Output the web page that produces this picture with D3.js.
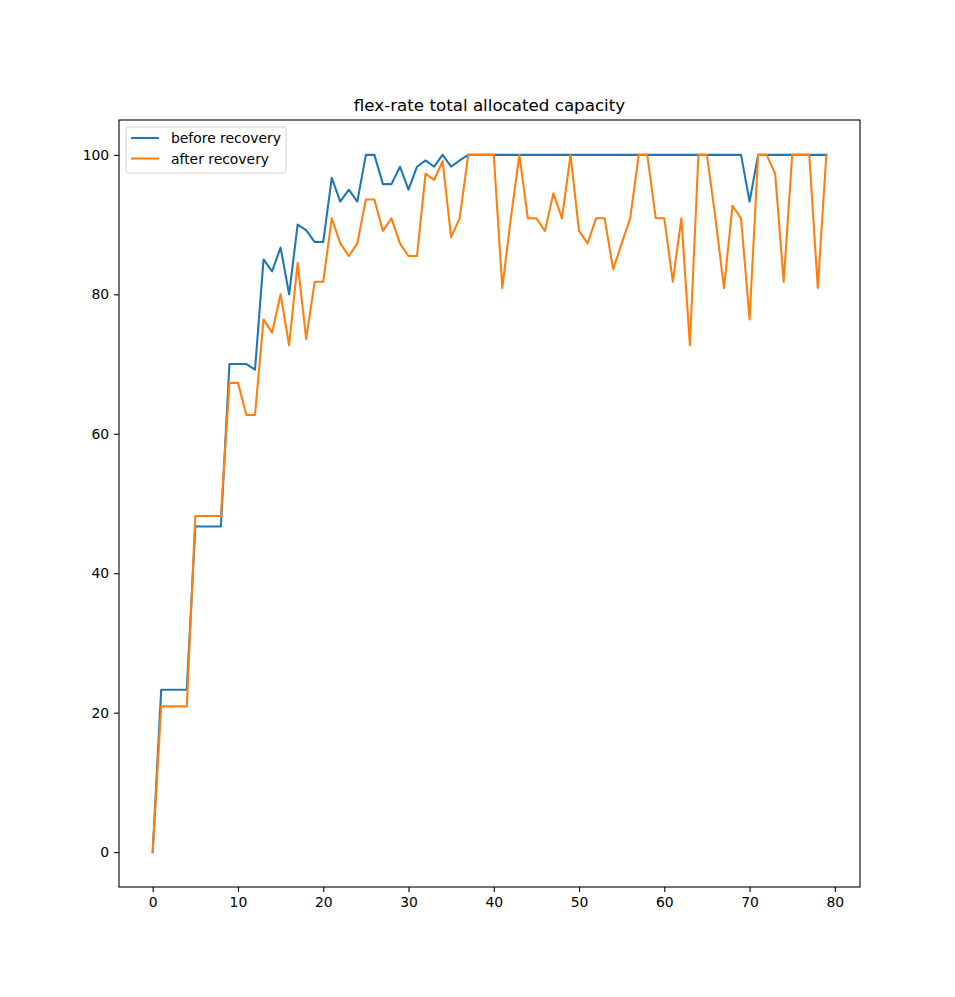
<!DOCTYPE html>
<html>
<head>
<meta charset="utf-8">
<script src="https://cdn.jsdelivr.net/npm/d3@7"></script>
<style>
  body { margin: 0; background: #fff; }
  svg text { font-family: "DejaVu Sans", sans-serif; }
</style>
</head>
<body>
<div id="chart"></div>
<script>
// values
const steps = d3.range(0, 80);

const beforeRecovery = [
  0, 23.3, 23.3, 23.3, 23.3, 46.7, 46.7, 46.7, 46.7, 70,
  70, 70, 69.2, 85, 83.3, 86.7, 80, 90, 89.2, 87.5,
  87.5, 96.7, 93.3, 95, 93.3, 100, 100, 95.8, 95.8, 98.3,
  95, 98.3, 99.2, 98.3, 100, 98.3, 99.2, 100, 100, 100,
  100, 100, 100, 100, 100, 100, 100, 100, 100, 100,
  100, 100, 100, 100, 100, 100, 100, 100, 100, 100,
  100, 100, 100, 100, 100, 100, 100, 100, 100, 100,
  93.3, 100, 100, 100, 100, 100, 100, 100, 100, 100
];

const afterRecovery = [
  0, 20.9, 20.9, 20.9, 20.9, 48.2, 48.2, 48.2, 48.2, 67.3,
  67.3, 62.7, 62.7, 76.4, 74.5, 80, 72.7, 84.5, 73.6, 81.8,
  81.8, 90.9, 87.3, 85.5, 87.3, 93.6, 93.6, 89.1, 90.9, 87.3,
  85.5, 85.5, 97.3, 96.4, 99.1, 88.2, 90.9, 100, 100, 100,
  100, 80.9, 90.9, 100, 90.9, 90.9, 89.1, 94.5, 90.9, 100,
  89.1, 87.3, 90.9, 90.9, 83.6, 87.3, 90.9, 100, 100, 90.9,
  90.9, 81.8, 90.9, 72.7, 100, 100, 90.9, 80.9, 92.7, 90.9,
  76.4, 100, 100, 97.3, 81.8, 100, 100, 100, 80.9, 100
];

const seriesNames = ["before recovery", "after recovery"];
const seriesColors = ["#1f77b4", "#ff7f0e"];
const xTicks = [0, 10, 20, 30, 40, 50, 60, 70, 80];
const yTicks = [0, 20, 40, 60, 80, 100];
const chartTitle = "flex-rate total allocated capacity";

const width = 955, height = 997;
const margin = {top: 120, right: 95, bottom: 110, left: 119};

let svg = d3.select("#chart")
    .append("svg")
    .attr("width", width)
    .attr("height", height);

let x = d3.scaleLinear()
    .domain([-3.95, 82.95])
    .range([margin.left, width - margin.right]);

let y = d3.scaleLinear()
    .domain([-5, 105])
    .range([height - margin.bottom, margin.top]);

// axes
let xAxis = svg.append("g")
    .attr("transform", "translate(0," + (height - margin.bottom) + ")")
    .call(d3.axisBottom(x).tickValues(xTicks).tickSize(4.9).tickPadding(4.9).tickFormat(d3.format("d")));

let yAxis = svg.append("g")
    .attr("transform", "translate(" + margin.left + ",0)")
    .call(d3.axisLeft(y).tickValues(yTicks).tickSize(4.9).tickPadding(4.9).tickFormat(d3.format("d")));

for (let ax of [xAxis, yAxis]) {
    ax.select(".domain").remove();
    ax.selectAll(".tick line").attr("stroke", "#000").attr("stroke-width", 1.1);
    ax.selectAll(".tick text")
        .attr("fill", "#000")
        .style("font-size", "13.9px")
        .style("font-family", "DejaVu Sans, sans-serif");
}

// lines
let line = d3.line()
    .x((d, i) => x(steps[i]))
    .y(d => y(d));

let allSeries = [beforeRecovery, afterRecovery];
allSeries.forEach(function(values, k){
    svg.append("path")
        .datum(values)
        .attr("fill", "none")
        .attr("stroke", seriesColors[k])
        .attr("stroke-width", 2.08)
        .attr("stroke-linejoin", "round")
        .attr("stroke-linecap", "square")
        .attr("d", line);
});

// frame
svg.append("rect")
    .attr("x", margin.left)
    .attr("y", margin.top)
    .attr("width", width - margin.left - margin.right)
    .attr("height", height - margin.top - margin.bottom)
    .attr("fill", "none")
    .attr("stroke", "#000")
    .attr("stroke-width", 1.1);

// title
svg.append("text")
    .attr("x", (margin.left + width - margin.right) / 2)
    .attr("y", margin.top - 9)
    .attr("text-anchor", "middle")
    .style("font-size", "16.7px")
    .text(chartTitle);

// legend
let legend = svg.append("g")
    .attr("transform", "translate(" + (margin.left + 7) + "," + (margin.top + 7) + ")");

legend.append("rect")
    .attr("width", 160)
    .attr("height", 46)
    .attr("rx", 3)
    .attr("fill", "#fff")
    .attr("fill-opacity", 0.8)
    .attr("stroke", "#d6d6d6")
    .attr("stroke-width", 1);

seriesNames.forEach(function(name, k){
    let ly = 11 + k * 20.5;
    legend.append("line")
        .attr("x1", 5).attr("x2", 33)
        .attr("y1", ly).attr("y2", ly)
        .attr("stroke", seriesColors[k])
        .attr("stroke-width", 2.08);
    legend.append("text")
        .attr("x", 45)
        .attr("y", ly + 5)
        .style("font-size", "13.9px")
        .text(name);
});
</script>
</body>
</html>
